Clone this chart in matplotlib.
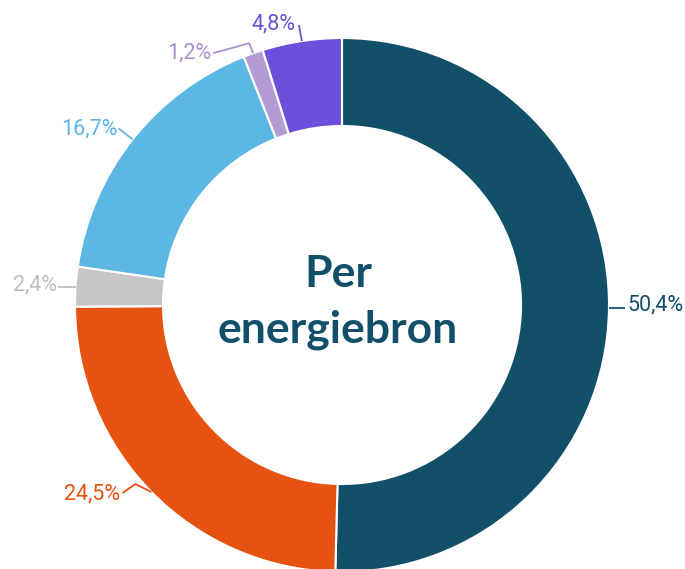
import matplotlib
matplotlib.use('Agg')
import matplotlib.pyplot as plt
import numpy as np

# data
labels = ['50,4%', '24,5%', '2,4%', '16,7%', '1,2%', '4,8%']
shares = [50.4, 24.5, 2.4, 16.7, 1.2, 4.8]
colors = ['#12506a', '#e6520f', '#c6c6c6', '#5db7e5', '#b39bd4', '#6c50dc']
label_colors = ['#12506a', '#e6520f', '#bdbdbd', '#5db7e5', '#a890cc', '#6c50dc']
title_lines = ['Per', 'energiebron']

W, H = 685, 569
cx, cy = 342, 569 - 305
R = 267
ring = 88

fig = plt.figure(figsize=(W / 100, H / 100), dpi=100)
ax = fig.add_axes([0, 0, 1, 1])

wedges, _ = ax.pie(shares, colors=colors, startangle=90, counterclock=False,
                   center=(cx, cy), radius=R, frame=True,
                   wedgeprops=dict(width=ring, edgecolor='white', linewidth=1.5))
ax.set_xlim(0, W)
ax.set_ylim(0, H)
ax.set_aspect('equal')
ax.axis('off')

# leader line bends (pixel offsets from wedge edge) and text offset
leaders = [
    [(16, 0)],
    [(-16, 8), (-29, -1)],
    [(-18, 0)],
    [(-14, 11)],
    [(-4, 10), (-40, 0)],
    [(-3, 16)],
]
text_off = [(2, -2), (-2, -6), (-1, -4), (-1, -6), (-2, -5), (-3, -4)]

for w, lab, col, bends, toff in zip(wedges, labels, label_colors, leaders, text_off):
    mid = np.deg2rad((w.theta1 + w.theta2) / 2)
    x0 = cx + R * np.cos(mid)
    y0 = cy + R * np.sin(mid)
    xs = [x0] + [x0 + dx for dx, dy in bends]
    ys = [y0] + [y0 + dy for dx, dy in bends]
    ax.plot(xs, ys, color=col, lw=1.3, solid_capstyle='butt')
    ha = 'left' if xs[-1] > x0 else 'right'
    ax.text(xs[-1] + toff[0], ys[-1] + toff[1], lab, color=col, ha=ha,
            va='baseline', fontsize=15.5, family='Roboto')

ax.text(338, H - 287, title_lines[0], ha='center', va='baseline',
        fontsize=32, fontweight='bold', family='Lato', color='#12506a')
ax.text(338, H - 342, title_lines[1], ha='center', va='baseline',
        fontsize=32, fontweight='bold', family='Lato', color='#12506a')

fig.savefig('out.png', dpi=100)
